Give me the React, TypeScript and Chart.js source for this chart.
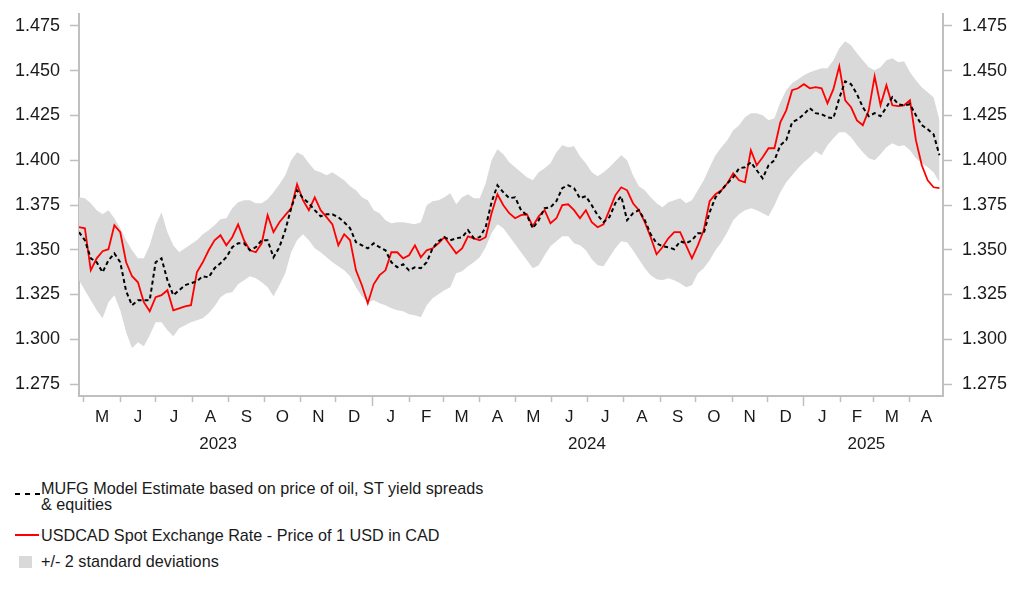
import { useEffect, useRef } from 'react';
import { Chart, registerables } from 'chart.js';

Chart.register(...registerables);

// ---------------- data ----------------
const START_DATE = '2023-04-27'; // first sampled observation
const STEP_DAYS = 5; // spacing between sampled observations
const AXIS_END_DATE = '2025-04-29';

const MONTH_LABELS = [
  'M', 'J', 'J', 'A', 'S', 'O', 'N', 'D',
  'J', 'F', 'M', 'A', 'M', 'J', 'J', 'A', 'S', 'O', 'N', 'D',
  'J', 'F', 'M', 'A',
];
const FIRST_MONTH_YEAR = 2023;
const FIRST_MONTH_INDEX = 4; // May (0-based)
const YEAR_LABELS = ['2023', '2024', '2025'];
const YEAR_LABEL_DATES = ['2023-08-23', '2024-07-01', '2025-02-23'];
const Y_TICKS = [1.275, 1.3, 1.325, 1.35, 1.375, 1.4, 1.425, 1.45, 1.475];
const Y_MIN = 1.2683;
const Y_MAX = 1.4817;

const usdcadSpot = [
  1.3626, 1.3620, 1.3385, 1.3452, 1.3492, 1.3503, 1.3637, 1.3598, 1.3430, 1.3352,
  1.3318, 1.3207, 1.3156, 1.3235, 1.3246, 1.3274, 1.3162, 1.3173, 1.3184, 1.3190,
  1.3374, 1.3430, 1.3497, 1.3553, 1.3581, 1.3525, 1.3570, 1.3642, 1.3553, 1.3497,
  1.3486, 1.3536, 1.3693, 1.3598, 1.3654, 1.3693, 1.3732, 1.3866, 1.3777, 1.3721,
  1.3793, 1.3721, 1.3682, 1.3642, 1.3525, 1.3587, 1.3553, 1.3385, 1.3302, 1.3201,
  1.3307, 1.3358, 1.3385, 1.3486, 1.3486, 1.3452, 1.3469, 1.3525, 1.3458, 1.3497,
  1.3508, 1.3536, 1.3570, 1.3525, 1.3480, 1.3508, 1.3575, 1.3564, 1.3553, 1.3570,
  1.3704, 1.3810, 1.3749, 1.3704, 1.3676, 1.3693, 1.3698, 1.3631, 1.3687, 1.3721,
  1.3648, 1.3676, 1.3749, 1.3754, 1.3721, 1.3676, 1.3721, 1.3654, 1.3626, 1.3642,
  1.3721, 1.3804, 1.3849, 1.3832, 1.3760, 1.3721, 1.3654, 1.3570, 1.3475, 1.3514,
  1.3564, 1.3598, 1.3598, 1.3525, 1.3452, 1.3525, 1.3609, 1.3771, 1.3810, 1.3832,
  1.3871, 1.3927, 1.3888, 1.3877, 1.4056, 1.3972, 1.4017, 1.4067, 1.4067, 1.4212,
  1.4279, 1.4391, 1.4402, 1.4425, 1.4402, 1.4408, 1.4402, 1.4318, 1.4397, 1.4525,
  1.4335, 1.4296, 1.4223, 1.4196, 1.4279, 1.4469, 1.4307, 1.4419, 1.4307, 1.4302,
  1.4307, 1.4335, 1.4112, 1.3972, 1.3888, 1.3849, 1.3844,
];

const mufgModel = [
  1.3598, 1.3553, 1.3452, 1.3430, 1.3374, 1.3441, 1.3480, 1.3430, 1.3268, 1.3190,
  1.3218, 1.3218, 1.3218, 1.3430, 1.3452, 1.3330, 1.3246, 1.3274, 1.3302, 1.3313,
  1.3324, 1.3352, 1.3346, 1.3397, 1.3425, 1.3458, 1.3514, 1.3536, 1.3536, 1.3497,
  1.3514, 1.3553, 1.3553, 1.3458, 1.3514, 1.3609, 1.3732, 1.3832, 1.3788, 1.3760,
  1.3721, 1.3687, 1.3698, 1.3698, 1.3682, 1.3654, 1.3620, 1.3542, 1.3525, 1.3508,
  1.3536, 1.3514, 1.3497, 1.3430, 1.3402, 1.3419, 1.3385, 1.3402, 1.3397, 1.3430,
  1.3508, 1.3547, 1.3570, 1.3553, 1.3564, 1.3570, 1.3609, 1.3564, 1.3570, 1.3626,
  1.3765, 1.3860, 1.3821, 1.3788, 1.3793, 1.3721, 1.3693, 1.3620, 1.3665, 1.3732,
  1.3737, 1.3771, 1.3844, 1.3860, 1.3844, 1.3788, 1.3799, 1.3749, 1.3693, 1.3654,
  1.3682, 1.3760, 1.3799, 1.3665, 1.3704, 1.3721, 1.3665, 1.3587, 1.3536, 1.3520,
  1.3514, 1.3503, 1.3547, 1.3536, 1.3553, 1.3592, 1.3592, 1.3709, 1.3793, 1.3832,
  1.3871, 1.3905, 1.3955, 1.3961, 1.3989, 1.3944, 1.3899, 1.3972, 1.4000, 1.4084,
  1.4112, 1.4212, 1.4229, 1.4257, 1.4291, 1.4263, 1.4257, 1.4240, 1.4235, 1.4346,
  1.4441, 1.4425, 1.4369, 1.4296, 1.4246, 1.4263, 1.4246, 1.4296, 1.4352, 1.4313,
  1.4307, 1.4313, 1.4251, 1.4196, 1.4173, 1.4145, 1.4028,
];

const bandUpper = [
  1.3793, 1.3788, 1.3760, 1.3721, 1.3698, 1.3721, 1.3676, 1.3620, 1.3553, 1.3497,
  1.3452, 1.3452, 1.3525, 1.3637, 1.3709, 1.3598, 1.3525, 1.3486, 1.3508, 1.3531,
  1.3553, 1.3587, 1.3609, 1.3637, 1.3670, 1.3676, 1.3732, 1.3765, 1.3777, 1.3777,
  1.3760, 1.3760, 1.3782, 1.3821, 1.3866, 1.3916, 1.4000, 1.4045, 1.4028, 1.3983,
  1.3944, 1.3933, 1.3916, 1.3933, 1.3911, 1.3888, 1.3855, 1.3832, 1.3793, 1.3777,
  1.3721, 1.3704, 1.3665, 1.3648, 1.3654, 1.3654, 1.3648, 1.3642, 1.3654, 1.3749,
  1.3771, 1.3777, 1.3793, 1.3816, 1.3754, 1.3793, 1.3810, 1.3788, 1.3788, 1.3871,
  1.4000, 1.4061, 1.4034, 1.3989, 1.3961, 1.3933, 1.3905, 1.3888, 1.3933, 1.3955,
  1.3983, 1.4045, 1.4084, 1.4073, 1.4078, 1.4022, 1.3983, 1.3933, 1.3911, 1.3933,
  1.3961, 1.3994, 1.4028, 1.4000, 1.3916, 1.3855, 1.3832, 1.3793, 1.3760, 1.3737,
  1.3765, 1.3777, 1.3788, 1.3760, 1.3777, 1.3832, 1.3888, 1.3961, 1.4028, 1.4073,
  1.4112, 1.4168, 1.4196, 1.4240, 1.4263, 1.4263, 1.4251, 1.4223, 1.4235, 1.4324,
  1.4391, 1.4430, 1.4453, 1.4475, 1.4492, 1.4503, 1.4514, 1.4514, 1.4559, 1.4626,
  1.4665, 1.4643, 1.4598, 1.4559, 1.4520, 1.4503, 1.4520, 1.4559, 1.4570, 1.4548,
  1.4553, 1.4492, 1.4447, 1.4408, 1.4380, 1.4352, 1.4223,
];

const bandLower = [
  1.3330, 1.3274, 1.3218, 1.3162, 1.3117, 1.3207, 1.3246, 1.3162, 1.3039, 1.2950,
  1.2983, 1.2961, 1.3022, 1.3095, 1.3095, 1.3050, 1.3017, 1.3061, 1.3078, 1.3095,
  1.3106, 1.3117, 1.3145, 1.3184, 1.3235, 1.3257, 1.3263, 1.3307, 1.3330, 1.3352,
  1.3341, 1.3318, 1.3290, 1.3240, 1.3302, 1.3369, 1.3486, 1.3553, 1.3587, 1.3553,
  1.3508, 1.3486, 1.3458, 1.3430, 1.3408, 1.3385, 1.3352, 1.3290, 1.3240, 1.3207,
  1.3218, 1.3201, 1.3190, 1.3173, 1.3162, 1.3156, 1.3140, 1.3134, 1.3123, 1.3190,
  1.3229, 1.3251, 1.3274, 1.3290, 1.3369, 1.3380, 1.3408, 1.3430, 1.3458, 1.3514,
  1.3592, 1.3642, 1.3620, 1.3575, 1.3531, 1.3486, 1.3441, 1.3397, 1.3413, 1.3469,
  1.3520, 1.3547, 1.3575, 1.3575, 1.3536, 1.3525, 1.3497, 1.3447, 1.3413, 1.3408,
  1.3458, 1.3508, 1.3547, 1.3542, 1.3497, 1.3447, 1.3397, 1.3358, 1.3335, 1.3330,
  1.3341, 1.3330, 1.3313, 1.3290, 1.3302, 1.3369, 1.3397, 1.3441, 1.3497, 1.3542,
  1.3598, 1.3665, 1.3698, 1.3721, 1.3732, 1.3721, 1.3704, 1.3687, 1.3749, 1.3821,
  1.3877, 1.3916, 1.3955, 1.3989, 1.4017, 1.4050, 1.4028, 1.4084, 1.4123, 1.4156,
  1.4156, 1.4129, 1.4084, 1.4045, 1.4011, 1.4000, 1.4034, 1.4073, 1.4095, 1.4078,
  1.4084, 1.4056, 1.4011, 1.3983, 1.3961, 1.3933, 1.3877,
];

const LEGEND_MODEL = ['MUFG Model Estimate based on price of oil, ST yield spreads', '& equities'];
const LEGEND_SPOT = 'USDCAD Spot Exchange Rate - Price of 1 USD in CAD';
const LEGEND_BAND = '+/- 2 standard deviations';

// ---------------- styling ----------------
const FONT = "'Liberation Sans', Arial, Helvetica, sans-serif";
const AXIS_GRAY = '#bfbfbf';
const TEXT = '#1a1a1a';
const RED = '#ff0000';
const BAND = '#d9d9d9';

const DAY_MS = 86400000;
const dayOf = (iso: string) =>
  Math.round((Date.parse(iso + 'T00:00:00Z') - Date.parse(START_DATE + 'T00:00:00Z')) / DAY_MS);
const monthStartIso = (k: number) =>
  new Date(Date.UTC(FIRST_MONTH_YEAR, FIRST_MONTH_INDEX + k, 1)).toISOString().slice(0, 10);

export default function App() {
  const canvasRef = useRef<HTMLCanvasElement | null>(null);

  useEffect(() => {
    const canvas = canvasRef.current;
    if (!canvas) return;
    const axisEnd = dayOf(AXIS_END_DATE);
    const xs = usdcadSpot.map((_, i) => i * STEP_DAYS);
    const pts = (arr: number[]) => arr.map((v, i) => ({ x: xs[i], y: v }));

    const monthStarts = MONTH_LABELS.map((_, k) => dayOf(monthStartIso(k)));
    const monthCenters = monthStarts.map((s, k) => {
      const next = Math.min(dayOf(monthStartIso(k + 1)), axisEnd);
      return (s + next) / 2;
    });
    const janSet = new Set(
      monthStarts.filter((_, k) => (FIRST_MONTH_INDEX + k) % 12 === 0)
    );
    const yearPos = YEAR_LABEL_DATES.map(dayOf);

    const xBase = {
      type: 'linear' as const,
      position: 'bottom' as const,
      min: 0,
      max: axisEnd,
    };
    const zeroPad = (s: any) => {
      s.paddingLeft = 0;
      s.paddingRight = 0;
      s.paddingTop = 0;
      s.paddingBottom = 0;
    };

    const yAxis = (position: 'left' | 'right') => ({
      type: 'linear' as const,
      position,
      min: Y_MIN,
      max: Y_MAX,
      afterBuildTicks: (s: any) => {
        s.ticks = Y_TICKS.map((v) => ({ value: v }));
      },
      afterFit: (s: any) => {
        s.width = 79;
        zeroPad(s);
      },
      border: { display: true, color: AXIS_GRAY, width: 2 },
      grid: {
        display: true,
        drawOnChartArea: false,
        drawTicks: true,
        tickLength: 9,
        tickColor: AXIS_GRAY,
        tickWidth: 1.5,
      },
      ticks: {
        autoSkip: false,
        padding: 10,
        color: TEXT,
        font: { family: FONT, size: 18 },
        callback: (v: any) => Number(v).toFixed(3),
      },
    });

    const chart = new Chart(canvas, {
      type: 'line',
      data: {
        datasets: [
          {
            label: 'MUFG Model Estimate',
            data: pts(mufgModel),
            borderColor: '#000000',
            borderWidth: 2,
            borderDash: [4, 3],
            pointRadius: 0,
            fill: false,
            xAxisID: 'x',
            yAxisID: 'y',
          },
          {
            label: 'USDCAD Spot',
            data: pts(usdcadSpot),
            borderColor: RED,
            borderWidth: 1.8,
            pointRadius: 0,
            fill: false,
            xAxisID: 'x',
            yAxisID: 'y',
          },
          {
            label: '+2 sd',
            data: pts(bandUpper),
            borderColor: 'rgba(0,0,0,0)',
            borderWidth: 0,
            backgroundColor: BAND,
            pointRadius: 0,
            fill: '+1',
            xAxisID: 'x',
            yAxisID: 'y',
          },
          {
            label: '-2 sd',
            data: pts(bandLower),
            borderColor: 'rgba(0,0,0,0)',
            borderWidth: 0,
            pointRadius: 0,
            fill: false,
            xAxisID: 'x',
            yAxisID: 'y',
          },
        ],
      },
      options: {
        animation: false,
        responsive: false,
        events: [],
        layout: { padding: { top: 14, left: 0, right: 0, bottom: 0 } },
        plugins: { legend: { display: false }, tooltip: { enabled: false } },
        scales: {
          x: {
            ...xBase,
            weight: 0,
            afterBuildTicks: (s: any) => {
              s.ticks = monthStarts.map((v) => ({ value: v }));
            },
            afterFit: (s: any) => {
              s.height = 10;
              zeroPad(s);
            },
            border: { display: true, color: AXIS_GRAY, width: 2 },
            grid: {
              display: true,
              drawOnChartArea: false,
              drawTicks: true,
              tickLength: 10,
              tickColor: AXIS_GRAY,
              tickWidth: 1.5,
              tickBorderDash: (ctx: any) =>
                ctx.tick && janSet.has(ctx.tick.value) ? [] : [5, 40],
            },
            ticks: { display: false },
          },
          xm: {
            ...xBase,
            weight: 1,
            afterBuildTicks: (s: any) => {
              s.ticks = monthCenters.map((v) => ({ value: v }));
            },
            afterFit: (s: any) => {
              s.height = 22;
              zeroPad(s);
            },
            border: { display: false },
            grid: { display: false, drawTicks: false },
            ticks: {
              autoSkip: false,
              maxRotation: 0,
              minRotation: 0,
              padding: 1,
              color: TEXT,
              font: { family: FONT, size: 17 },
              callback: (_v: any, i: number) => MONTH_LABELS[i],
            },
          },
          xy: {
            ...xBase,
            weight: 2,
            afterBuildTicks: (s: any) => {
              s.ticks = yearPos.map((v) => ({ value: v }));
            },
            afterFit: (s: any) => {
              s.height = 32;
              zeroPad(s);
            },
            border: { display: false },
            grid: { display: false, drawTicks: false },
            ticks: {
              autoSkip: false,
              maxRotation: 0,
              minRotation: 0,
              padding: 6,
              color: TEXT,
              font: { family: FONT, size: 17 },
              callback: (_v: any, i: number) => YEAR_LABELS[i],
            },
          },
          y: yAxis('left'),
          y2: yAxis('right'),
        },
      } as any,
    });
    return () => chart.destroy();
  }, []);

  const legendText = {
    position: 'absolute' as const,
    left: 41,
    fontSize: 16.2,
    lineHeight: '16px',
    color: TEXT,
    whiteSpace: 'nowrap' as const,
  };
  const dash = (left: number) => (
    <div
      key={left}
      style={{ position: 'absolute', left, top: 493, width: 5, height: 2, background: '#000' }}
    />
  );

  return (
    <div
      style={{
        position: 'absolute',
        left: 0,
        top: 0,
        width: 1022,
        height: 597,
        background: '#ffffff',
        fontFamily: FONT,
        overflow: 'hidden',
      }}
    >
      <canvas
        ref={canvasRef}
        width={1022}
        height={460}
        style={{ position: 'absolute', left: 0, top: 0 }}
      />
      {[15, 25, 35].map(dash)}
      <div style={{ ...legendText, top: 480 }}>
        {LEGEND_MODEL[0]}
        <br />
        {LEGEND_MODEL[1]}
      </div>
      <div style={{ position: 'absolute', left: 15, top: 534, width: 24, height: 2, background: RED }} />
      <div style={{ ...legendText, top: 527 }}>{LEGEND_SPOT}</div>
      <div style={{ position: 'absolute', left: 19, top: 556, width: 13, height: 12, background: BAND }} />
      <div style={{ ...legendText, top: 553 }}>{LEGEND_BAND}</div>
    </div>
  );
}
